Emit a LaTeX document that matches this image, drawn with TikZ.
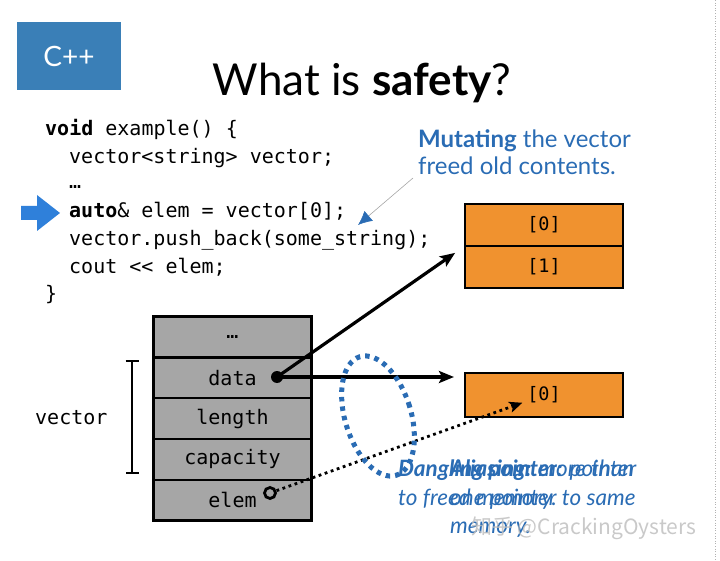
\documentclass[tikz,border=0pt]{standalone}
\usepackage{fontspec}
\setmainfont{Lato}
\setmonofont{DejaVu Sans Mono}
\newfontfamily\cjk{Noto Sans CJK SC}
\usetikzlibrary{positioning, arrows.meta, shapes.geometric}
\usetikzlibrary{calc}
\definecolor{slideblue}{HTML}{3A7FB7}
\definecolor{markblue}{HTML}{2F80DA}
\definecolor{noteblue}{HTML}{2A6CB4}
\definecolor{memorange}{HTML}{F0922F}
\definecolor{cellgray}{HTML}{A6A6A6}
\newcommand{\codefont}{\fontsize{20}{24}\selectfont\ttfamily}
\newcommand{\memfont}{\fontsize{18.5}{20}\selectfont\ttfamily}
\newcommand{\notefont}{\fontsize{24}{28}\selectfont}
\newcommand{\dangfont}{\fontsize{22.5}{26}\selectfont\itshape}
\tikzstyle{cell} = [rectangle, draw=black, line width=2.4pt, fill=cellgray, minimum width=158pt, minimum height=40.8pt, outer sep=0pt, inner sep=0pt, font=\codefont]
\tikzstyle{mem} = [rectangle, draw=black, line width=2.4pt, fill=memorange, minimum width=158pt, minimum height=42pt, outer sep=0pt, font=\memfont]
\tikzstyle{code} = [anchor=base west, inner sep=0pt, font=\codefont]
\tikzstyle{note} = [anchor=base west, inner sep=0pt, text=noteblue, font=\notefont]
\tikzstyle{dang} = [anchor=base west, inner sep=0pt, text=noteblue, font=\dangfont]
\tikzstyle{ptrarrow} = [line width=3.2pt, -{Stealth[length=15pt,width=12pt,inset=3pt]}]
\tikzstyle{dangarrow} = [line width=2.8pt, dash pattern=on 2.8pt off 3.6pt, -{Stealth[length=13pt,width=11pt,inset=3pt]}]
\tikzstyle{every node}=[node distance=0pt]

\begin{document}
\begin{tikzpicture}[x=1pt, y=-1pt]
			\useasboundingbox (0,0) rectangle (720,561);
			\draw[gray!60, dotted, line width=0.6pt] (715,0) -- (715,561);
			%标题
			\node (lang) [rectangle, fill=slideblue, minimum width=104pt, minimum height=68pt, text=white, font=\fontsize{28}{30}\selectfont] at (69,56) {C++};
			\node (title) [anchor=base, inner sep=0pt, font=\fontsize{44}{48}\selectfont] at (362,96) {What is \textbf{safety}?};
			%代码
			\node (l1) [code] at (45,136) {\textbf{void} example() \{};
			\node (l2) [code] at (69,163.5) {vector<string> vector;};
			\node (l3) [code] at (69,189) {…};
			\node (l4) [code] at (69,218) {\textbf{auto}\& elem = vector[0];};
			\node (l5) [code] at (69,246) {vector.push\_back(some\_string);};
			\node (l6) [code] at (69,273.5) {cout << elem;};
			\node (l7) [code] at (45,301) {\}};
			\fill[markblue] (21,206) -- (37,206) -- (37,195) -- (60,213) -- (37,231) -- (37,220) -- (21,220) -- cycle;
			%说明
			\node (mut1) [note] at (418,148) {\textbf{Mutating} the vector};
			\node (mut2) [note] at (418,175) {freed old contents.};
			\coordinate (mutpt) at (358,225);
			\draw[gray!70, line width=0.6pt, -{Latex[length=14pt,width=13pt,color=noteblue]}] ([xshift=-5pt,yshift=-3pt]mut2.base west) -- (mutpt);
			%内存
			\node (old0) [mem] at (544,225) {[0]};
			\node (old1) [mem, below=of old0] {[1]};
			\node (new0) [mem, minimum height=44pt] at (544,395) {[0]};
			%栈
			\node (etc) [cell] at (232.5,337) {…};
			\node (data) [cell, below=of etc] {data};
			\node (len) [cell, below=of data] {length};
			\node (cap) [cell, below=of len] {capacity};
			\node (elem) [cell, below=of cap] {elem};
			\node (vec) [code] at (35,424) {vector};
			\coordinate (vtop) at (132,360);
			\coordinate (vbot) at (132,474);
			\draw[line width=2pt, {Bar[width=13pt]}-{Bar[width=13pt]}] (vtop) -- (vbot);
			%指针
			\node (ddot) [circle, fill=black, minimum size=12pt, inner sep=0pt] at (277,377) {};
			\node (ering) [circle, draw=black, line width=2.8pt, minimum size=11pt, inner sep=0pt] at (270,493) {};
			\draw[ptrarrow, shorten >=12pt] (ddot.center) -- (old1.north west);
			\draw[ptrarrow, shorten >=11pt] (ddot.center) -- (new0.west |- ddot.center);
			\draw[dangarrow, shorten >=23pt] (ering) -- (new0.center);
			\node (alias) [ellipse, draw=noteblue, line width=5pt, dash pattern=on 4.5pt off 5pt, minimum width=66pt, minimum height=124pt, rotate=17] at (378,416) {};
			%悬垂指针
			\node (dang1) [dang] at (398,476) {\textbf{Dangling pointer:} pointer};
			\node (dang2) [dang] at (398,505) {to freed memory.};
			\node (ali1) [dang] at (450,476) {\textbf{Aliasing:} more than};
			\node (ali2) [dang] at (450,505) {one pointer to same};
			\node (ali3) [dang] at (450,533) {memory.};
			\node (mark) [anchor=base west, inner sep=0pt, text=gray!50, opacity=0.85, font=\cjk\fontsize{21}{24}\selectfont] at (471,534) {知乎 @CrackingOysters};
		\end{tikzpicture}
\end{document}
